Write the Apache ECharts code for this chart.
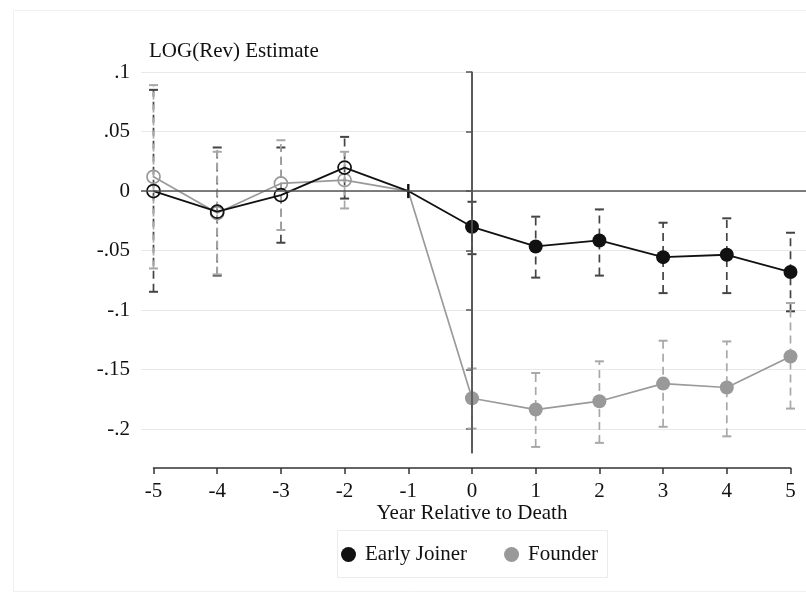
<!DOCTYPE html>
<html><head><meta charset="utf-8">
<script src="https://cdn.jsdelivr.net/npm/echarts@6/dist/echarts.min.js"></script>
<style>html,body{margin:0;padding:0;background:#fff}#c{width:806px;height:594px}</style>
</head><body><div id="c"></div>
<script>
const years = [-5,-4,-3,-2,-1,0,1,2,3,4,5];
const joinerEst = [0,-0.0173,-0.0034,0.0197,0,-0.030,-0.0465,-0.0415,-0.0555,-0.0535,-0.068];
const joinerLo  = [-0.0846,-0.071,-0.0434,-0.0063,null,-0.053,-0.0727,-0.071,-0.0857,-0.0857,-0.101];
const joinerHi  = [0.085,0.0366,0.0366,0.0455,null,-0.009,-0.0215,-0.0154,-0.0266,-0.0229,-0.035];
const founderEst = [0.012,-0.0185,0.0064,0.0092,0,-0.174,-0.1835,-0.1765,-0.1617,-0.165,-0.139];
const founderLo  = [-0.065,-0.070,-0.0327,-0.0146,null,-0.1995,-0.2149,-0.2115,-0.198,-0.206,-0.1827];
const founderHi  = [0.089,0.033,0.0427,0.033,null,-0.149,-0.1528,-0.143,-0.1257,-0.1263,-0.094];
const yTicks = [-0.2,-0.15,-0.1,-0.05,0,0.05,0.1];
const yTickLabels = ['-.2','-.15','-.1','-.05','0','.05','.1'];
const xTickLabels = ['-5','-4','-3','-2','-1','0','1','2','3','4','5'];
const seriesNames = ['Early Joiner','Founder'];

const FONT = 'Liberation Serif';
const FS = 21;
const chart = echarts.init(document.getElementById('c'), null, {renderer:'canvas'});

const pxPerYear = 63.7;
const gridLeft = 141;
const firstTickX = 153.5;
const gridW = 806 - gridLeft;
const xMin = -5 - (firstTickX - gridLeft) / pxPerYear;
const xMax = xMin + gridW / pxPerYear;

function lineData(est, color) {
  return years.map((x, i) => {
    const item = {value: [x, est[i]]};
    if (x < -1) {
      item.symbol = 'circle'; item.symbolSize = 13;
      item.itemStyle = {color: 'rgba(0,0,0,0)', borderColor: color, borderWidth: 1.7};
    } else if (x === -1) {
      item.symbol = 'rect'; item.symbolSize = [2, 14];
      item.itemStyle = {color: '#111', borderWidth: 0};
    } else {
      item.symbol = 'circle'; item.symbolSize = 14;
      item.itemStyle = {color: color, borderWidth: 0};
    }
    return item;
  });
}
function barData(lo, hi) {
  const out = [];
  years.forEach((x, i) => { if (lo[i] !== null) out.push([x, lo[i], hi[i]]); });
  return out;
}
function errRender(color) {
  return function (params, api) {
    const x = api.value(0);
    const p1 = api.coord([x, api.value(1)]);
    const p2 = api.coord([x, api.value(2)]);
    const w = 4.5;
    return {
      type: 'group',
      children: [
        {type: 'line', shape: {x1: p1[0], y1: p1[1], x2: p2[0], y2: p2[1]},
         style: {stroke: color, lineWidth: 1.7, lineDash: [8, 5]}},
        {type: 'line', shape: {x1: p1[0]-w, y1: p1[1], x2: p1[0]+w, y2: p1[1]},
         style: {stroke: color, lineWidth: 2}},
        {type: 'line', shape: {x1: p2[0]-w, y1: p2[1], x2: p2[0]+w, y2: p2[1]},
         style: {stroke: color, lineWidth: 2}}
      ]
    };
  };
}

const option = {
  backgroundColor: '#fff',
  animation: false,
  textStyle: {fontFamily: FONT},
  title: {
    text: 'LOG(Rev) Estimate', left: 144, top: 36,
    textStyle: {fontFamily: FONT, fontSize: FS, fontWeight: 'normal', color: '#111'}
  },
  graphic: [
    {type: 'rect', shape: {x: 13.5, y: 10.5, width: 800, height: 581}, style: {fill: 'none', stroke: '#f0f0f0', lineWidth: 1}, z: -1},
    {type: 'rect', shape: {x: 337.5, y: 530.5, width: 270, height: 47}, style: {fill: '#fff', stroke: '#ebebeb', lineWidth: 1}, z: -1}
  ],
  legend: {
    left: 341, top: 544, itemWidth: 15, itemHeight: 15, itemGap: 37,
    padding: 0,
    textStyle: {fontFamily: FONT, fontSize: FS, color: '#111', padding: [0,0,0,4]},
    data: [
      {name: seriesNames[0], icon: 'circle', itemStyle: {color: '#111', borderWidth: 0}},
      {name: seriesNames[1], icon: 'circle', itemStyle: {color: '#999', borderWidth: 0}}
    ]
  },
  grid: [
    {left: gridLeft, right: 0, top: 72, height: 381},
    {left: firstTickX, width: pxPerYear * 10, top: 467, height: 1}
  ],
  xAxis: [
    {type: 'value', gridIndex: 0, min: xMin, max: xMax, show: false},
    {type: 'value', gridIndex: 1, min: -5, max: 5, interval: 1, position: 'bottom',
     axisLine: {show: true, lineStyle: {color: '#333', width: 1.5}},
     axisTick: {show: true, length: 6, lineStyle: {color: '#333', width: 1.5}},
     axisLabel: {fontFamily: FONT, fontSize: FS, color: '#111', margin: 13,
                 formatter: v => xTickLabels[Math.round(v) + 5]},
     splitLine: {show: false},
     name: 'Year Relative to Death', nameLocation: 'middle', nameGap: 34,
     nameTextStyle: {fontFamily: FONT, fontSize: FS, color: '#111'}}
  ],
  yAxis: [
    {type: 'value', gridIndex: 0, min: -0.22, max: 0.1,
     axisLine: {show: true, lineStyle: {color: '#555', width: 1.5}},
     axisTick: {show: true, length: 6, customValues: yTicks, lineStyle: {color: '#555', width: 1.5}},
     axisLabel: {fontFamily: FONT, fontSize: FS, color: '#111', margin: 11, customValues: yTicks,
                 formatter: v => {
                   let best = 0;
                   yTicks.forEach((t, i) => { if (Math.abs(t - v) < Math.abs(yTicks[best] - v)) best = i; });
                   return yTickLabels[best];
                 }},
     splitLine: {show: true, lineStyle: {color: '#e8e8e8', width: 1}}},
    {type: 'value', gridIndex: 1, show: false, min: 0, max: 1}
  ],
  series: [
    {type: 'custom', name: 'jErr', xAxisIndex: 0, yAxisIndex: 0, z: 2,
     renderItem: errRender('#444'), data: barData(joinerLo, joinerHi), silent: true},
    {type: 'custom', name: 'fErr', xAxisIndex: 0, yAxisIndex: 0, z: 2,
     renderItem: errRender('#a8a8a8'), data: barData(founderLo, founderHi), silent: true},
    {type: 'line', name: seriesNames[1], xAxisIndex: 0, yAxisIndex: 0, z: 3,
     lineStyle: {color: '#9a9a9a', width: 1.7}, itemStyle: {color: '#999'},
     data: lineData(founderEst, '#999'),
     markLine: {silent: true, symbol: 'none', label: {show: false},
       lineStyle: {color: '#555', width: 1.7, type: 'solid'},
       data: [{yAxis: 0}, {xAxis: 0}]}},
    {type: 'line', name: seriesNames[0], xAxisIndex: 0, yAxisIndex: 0, z: 4,
     lineStyle: {color: '#111', width: 1.8}, itemStyle: {color: '#111'},
     data: lineData(joinerEst, '#111')}
  ]
};
chart.setOption(option);
</script></body></html>
